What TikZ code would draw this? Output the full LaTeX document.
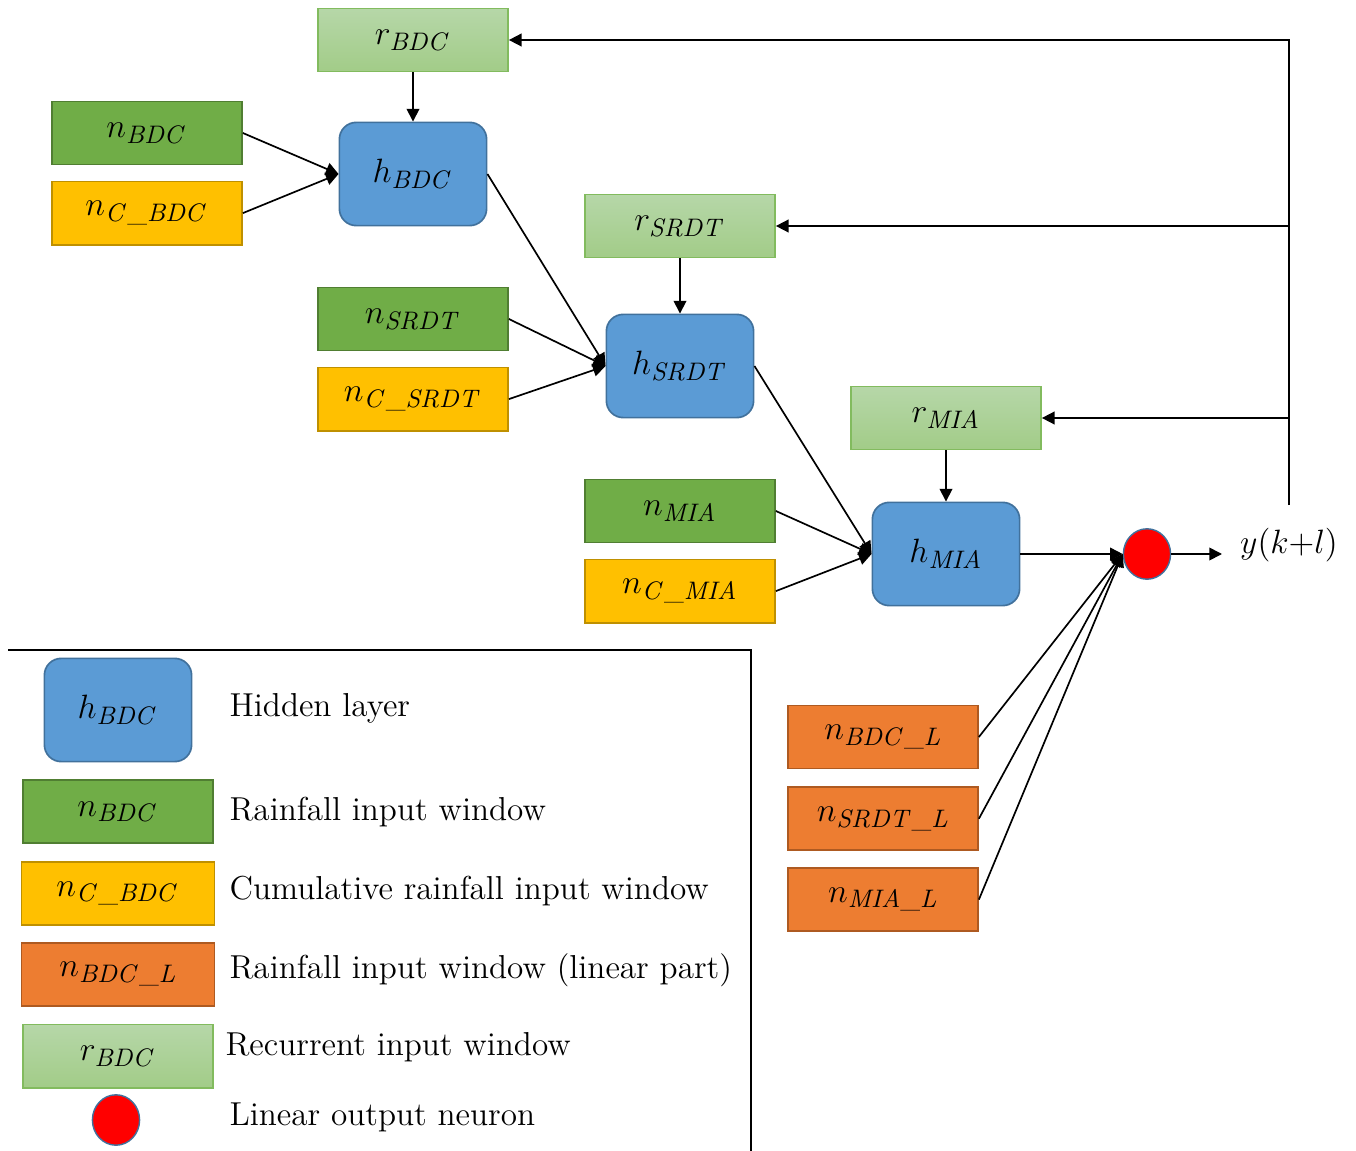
\documentclass[tikz,border=0pt]{standalone}
\usepackage{amsmath}
\usepackage{xcolor}
\usepackage{tikz}
\usetikzlibrary{arrows.meta, positioning, shapes.geometric}
\definecolor{wgreen}{HTML}{70AD47}
\definecolor{wgreenb}{HTML}{507E32}
\definecolor{wyellow}{HTML}{FFC000}
\definecolor{wyellowb}{HTML}{BF9000}
\definecolor{worange}{HTML}{ED7D31}
\definecolor{worangeb}{HTML}{AE5A21}
\definecolor{hblue}{HTML}{5B9BD5}
\definecolor{hblueb}{HTML}{41719C}
\definecolor{rtop}{HTML}{B6D7A8}
\definecolor{rbot}{HTML}{A2CC88}
\definecolor{rborder}{HTML}{82BB5E}

\begin{document}
\begin{tikzpicture}[
        x=0.0125cm, y=-0.0125cm,
        node distance = 0.19cm and 0.5cm,
        win/.style = {rectangle, minimum width=2.375cm, minimum height=0.79cm, inner sep=1pt, font=\fontsize{13}{15}\selectfont, line width=0.6pt},
        rainbox/.style = {win, fill=wgreen, draw=wgreenb},
        cumbox/.style = {win, fill=wyellow, draw=wyellowb},
        linbox/.style = {win, fill=worange, draw=worangeb},
        recbox/.style = {win, top color=rtop, bottom color=rbot, draw=rborder},
        hidden/.style = {rectangle, rounded corners=6pt, minimum width=1.84cm, minimum height=1.29cm, font=\fontsize{13}{15}\selectfont, fill=hblue, draw=hblueb, line width=0.6pt},
        outneuron/.style = {ellipse, minimum width=0.59cm, minimum height=0.63cm, inner sep=0pt, fill=red, draw=hblueb, line width=0.5pt},
        legtext/.style = {anchor=west, inner sep=0pt, font=\fontsize{11.8}{14}\selectfont},
        arrow/.style = {draw=black, -{Triangle[length=4.5pt, width=4.5pt]}, line width=0.6pt},
        wire/.style = {draw=black, line width=0.6pt}
    ]
        \useasboundingbox (0,0) rectangle (1356,1151);

        \node (rbdc) [recbox] at (413,40) {$r_{\mathit{BDC}}$};
        \node (hbdc) [hidden] at (413,174) {$h_{\mathit{BDC}}$};
        \node (nbdc) [rainbox] at (147,133) {$n_{\mathit{BDC}}$};
        \node (ncbdc) [cumbox, below=of nbdc] {$n_{\mathit{C\_BDC}}$};

        \node (rsrdt) [recbox] at (680,226) {$r_{\mathit{SRDT}}$};
        \node (hsrdt) [hidden] at (680,366) {$h_{\mathit{SRDT}}$};
        \node (nsrdt) [rainbox] at (413,319) {$n_{\mathit{SRDT}}$};
        \node (ncsrdt) [cumbox, below=of nsrdt] {$n_{\mathit{C\_SRDT}}$};

        \node (rmia) [recbox] at (946,418) {$r_{\mathit{MIA}}$};
        \node (hmia) [hidden] at (946,554) {$h_{\mathit{MIA}}$};
        \node (nmia) [rainbox] at (680,511) {$n_{\mathit{MIA}}$};
        \node (ncmia) [cumbox, below=of nmia] {$n_{\mathit{C\_MIA}}$};

        \node (outn) [outneuron] at (1147,554) {};
        \node (yout) [anchor=west, inner xsep=0.22cm, inner ysep=0pt, font=\fontsize{13}{15}\selectfont] at (1222,545) {$y(k{+}l)$};
        \coordinate (fbstart) at (1289,505);

        \node (nbdcl) [linbox] at (883,737) {$n_{\mathit{BDC\_L}}$};
        \node (nsrdtl) [linbox, below=0.21cm of nbdcl] {$n_{\mathit{SRDT\_L}}$};
        \node (nmial) [linbox, below=0.2cm of nsrdtl] {$n_{\mathit{MIA\_L}}$};

        \draw [arrow] (rbdc) -- (hbdc);
        \draw [arrow] (nbdc.east) -- (hbdc.west);
        \draw [arrow] (ncbdc.east) -- (hbdc.west);
        \draw [arrow] (hbdc.east) -- (hsrdt.west);
        \draw [arrow] (rsrdt) -- (hsrdt);
        \draw [arrow] (nsrdt.east) -- (hsrdt.west);
        \draw [arrow] (ncsrdt.east) -- (hsrdt.west);
        \draw [arrow] (hsrdt.east) -- (hmia.west);
        \draw [arrow] (rmia) -- (hmia);
        \draw [arrow] (nmia.east) -- (hmia.west);
        \draw [arrow] (ncmia.east) -- (hmia.west);
        \draw [arrow] (hmia.east) -- (outn.west);
        \draw [arrow] (nbdcl.east) -- (outn.west);
        \draw [arrow] (nsrdtl.east) -- (outn.west);
        \draw [arrow] (nmial.east) -- (outn.west);
        \draw [arrow] (outn.east) -- (outn.east -| yout.west);
        \draw [arrow] (fbstart) |- (rbdc.east);
        \draw [arrow] (fbstart |- rsrdt.east) -- (rsrdt.east);
        \draw [arrow] (fbstart |- rmia.east) -- (rmia.east);

        \coordinate (legtl) at (8,650);
        \coordinate (legtr) at (751,650);
        \coordinate (legbr) at (751,1151);
        \draw [wire] (legtl) -- (legtr) -- (legbr);

        \node (lhid) [hidden] at (118,710) {$h_{\mathit{BDC}}$};
        \node (lrain) [rainbox, below=0.21cm of lhid] {$n_{\mathit{BDC}}$};
        \node (lcum) [cumbox, minimum width=2.41cm, below=0.21cm of lrain] {$n_{\mathit{C\_BDC}}$};
        \node (llin) [linbox, minimum width=2.41cm, below=0.2cm of lcum] {$n_{\mathit{BDC\_L}}$};
        \node (lrec) [recbox, below=0.21cm of llin] {$r_{\mathit{BDC}}$};
        \node (lout) [outneuron] at (116,1120) {};

        \node (thid) [legtext] at (229,708) {Hidden layer};
        \node (train) [legtext] at (229,812) {Rainfall input window};
        \node (tcum) [legtext] at (229,891) {Cumulative rainfall input window};
        \node (tlin) [legtext] at (229,970) {Rainfall input window (linear part)};
        \node (trec) [legtext] at (225,1047) {Recurrent input window};
        \node (tout) [legtext] at (229,1117) {Linear output neuron};

    \end{tikzpicture}
\end{document}
